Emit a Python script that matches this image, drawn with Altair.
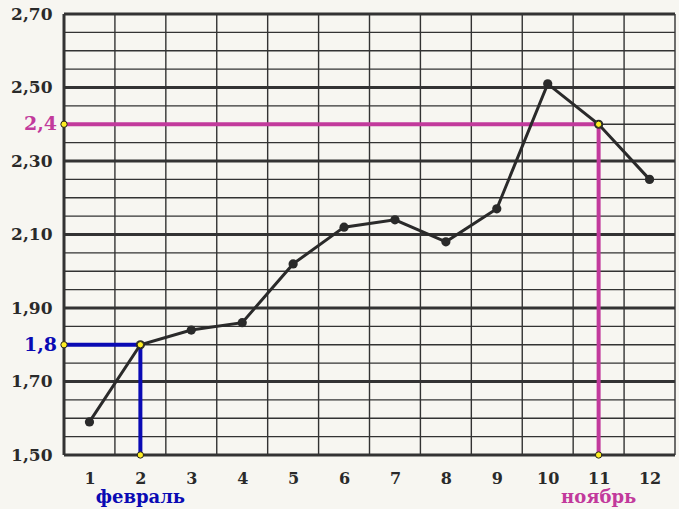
import altair as alt
import pandas as pd

# ---- data ----
months = [1, 2, 3, 4, 5, 6, 7, 8, 9, 10, 11, 12]
values = [1.59, 1.80, 1.84, 1.86, 2.02, 2.12, 2.14, 2.08, 2.17, 2.51, 2.40, 2.25]

y_labels = [1.50, 1.70, 1.90, 2.10, 2.30, 2.50, 2.70]
y_minor = [1.55, 1.60, 1.65, 1.75, 1.80, 1.85, 1.95, 2.00, 2.05, 2.15, 2.20, 2.25,
           2.35, 2.40, 2.45, 2.55, 2.60, 2.65]
x_grid = [0.5, 1.5, 2.5, 3.5, 4.5, 5.5, 6.5, 7.5, 8.5, 9.5, 10.5, 11.5, 12.5]

guide_names = ["февраль", "ноябрь"]
guide_month = [2, 11]
guide_value = [1.8, 2.4]
guide_label = ["1,8", "2,4"]
guide_color = ["#0a0ab4", "#c23a9c"]

Y_MIN, Y_MAX = 1.50, 2.70
X_MIN, X_MAX = 0.5, 12.5

df = pd.DataFrame({"month": months, "value": values})
gdf = pd.DataFrame({
    "name": guide_names, "month": guide_month, "value": guide_value,
    "label": guide_label, "color": guide_color,
    "x0": [X_MIN] * 2, "y0": [Y_MIN] * 2,
})
vgrid = pd.DataFrame({"x": x_grid})
hmajor = pd.DataFrame({"y": y_labels})
hminor = pd.DataFrame({"y": y_minor})

W, H = 611, 441
FONT = "DejaVu Serif"
INK = "#2a2a2a"
GRID = "#333333"

xs = alt.Scale(domain=[X_MIN, X_MAX], nice=False, zero=False)
ys = alt.Scale(domain=[Y_MIN, Y_MAX], nice=False, zero=False)

x_axis = alt.Axis(values=months, grid=False, ticks=False, domain=False, title=None,
                  labelFont=FONT, labelFontSize=16, labelFontWeight="bold",
                  labelColor=INK, labelPadding=15)
y_axis = alt.Axis(values=y_labels, grid=False, ticks=False, domain=False, title=None,
                  labelExpr="replace(format(datum.value, '.2f'), '.', ',')",
                  labelFont=FONT, labelFontSize=17, labelFontWeight="bold",
                  labelColor=INK, labelPadding=12)

base = alt.Chart(df).mark_line(color=INK, strokeWidth=3).encode(
    x=alt.X("month:Q", scale=xs, axis=x_axis),
    y=alt.Y("value:Q", scale=ys, axis=y_axis),
)

vlines = alt.Chart(vgrid).mark_rule(color=GRID, strokeWidth=1.4).encode(
    x=alt.X("x:Q", scale=xs),
)
left_edge = alt.Chart(vgrid).transform_filter("datum.x == 0.5").mark_rule(
    color=GRID, strokeWidth=3).encode(x=alt.X("x:Q", scale=xs))
hminor_lines = alt.Chart(hminor).mark_rule(color=GRID, strokeWidth=1.3).encode(
    y=alt.Y("y:Q", scale=ys))
hmajor_lines = alt.Chart(hmajor).mark_rule(color=GRID, strokeWidth=3).encode(
    y=alt.Y("y:Q", scale=ys))

color_scale = alt.Scale(domain=guide_names, range=guide_color)

h_guides = alt.Chart(gdf).mark_rule(strokeWidth=4).encode(
    x=alt.X("x0:Q", scale=xs), x2="month:Q",
    y=alt.Y("value:Q", scale=ys),
    color=alt.Color("name:N", scale=color_scale, legend=None),
)
v_guides = alt.Chart(gdf).mark_rule(strokeWidth=4).encode(
    x=alt.X("month:Q", scale=xs),
    y=alt.Y("y0:Q", scale=ys), y2="value:Q",
    color=alt.Color("name:N", scale=color_scale, legend=None),
)

points = alt.Chart(df).mark_circle(size=85, color=INK, opacity=1).encode(
    x=alt.X("month:Q", scale=xs), y=alt.Y("value:Q", scale=ys))

yellow_style = dict(shape="circle", size=40, fill="#ffee22", stroke="#222222",
                    strokeWidth=1, filled=True, opacity=1)
y_a = alt.Chart(gdf).mark_point(**yellow_style).encode(
    x=alt.X("x0:Q", scale=xs), y=alt.Y("value:Q", scale=ys))
y_b = alt.Chart(gdf).mark_point(**yellow_style).encode(
    x=alt.X("month:Q", scale=xs), y=alt.Y("value:Q", scale=ys))
y_c = alt.Chart(gdf).mark_point(**yellow_style).encode(
    x=alt.X("month:Q", scale=xs), y=alt.Y("y0:Q", scale=ys))

val_labels = alt.Chart(gdf).mark_text(
    align="right", baseline="middle", dx=-7, font=FONT, fontSize=19,
    fontWeight="bold").encode(
    x=alt.X("x0:Q", scale=xs), y=alt.Y("value:Q", scale=ys),
    text="label:N",
    color=alt.Color("name:N", scale=color_scale, legend=None),
)

month_names = alt.Chart(gdf).mark_text(
    align="center", baseline="middle", font=FONT, fontSize=18,
    fontWeight="bold").encode(
    x=alt.X("month:Q", scale=xs), y=alt.value(H + 43),
    text="name:N",
    color=alt.Color("name:N", scale=color_scale, legend=None),
)

chart = alt.layer(
    base.mark_line(opacity=0), vlines, hminor_lines, hmajor_lines, left_edge,
    h_guides, v_guides, base, points, y_a, y_b, y_c, val_labels, month_names,
).properties(
    width=W, height=H,
    autosize=alt.AutoSizeParams(type="none"),
    padding={"left": 64, "top": 14, "right": 4, "bottom": 54},
    background="#f7f6f1",
).configure_view(stroke=None, clip=False)

chart.save("out.html", embed_options={"renderer": "svg", "actions": False})
